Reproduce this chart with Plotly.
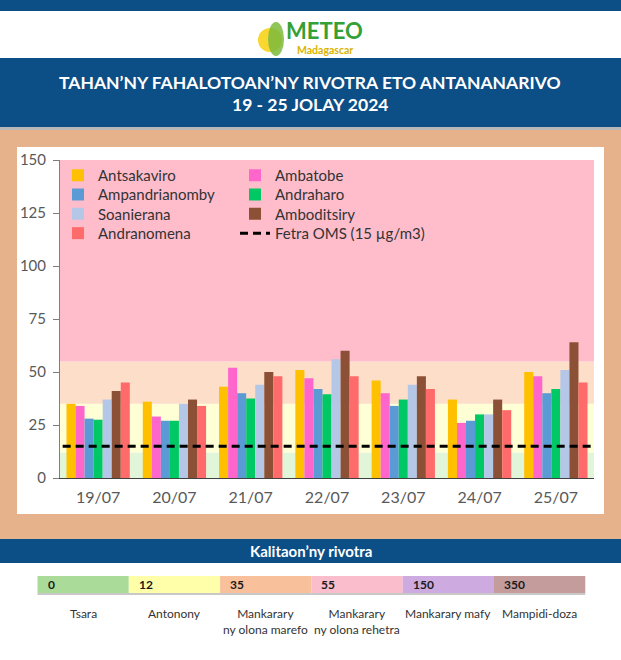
import plotly.graph_objects as go

# ---------------- data ----------------
dates = ["19/07", "20/07", "21/07", "22/07", "23/07", "24/07", "25/07"]
antsakaviro = [35, 36, 43, 51, 46, 37, 50]
ambatobe = [34, 29, 52, 47, 40, 26, 48]
ampandrianomby = [28, 27, 40, 42, 34, 27, 40]
andraharo = [27.5, 27, 37.5, 39.5, 37, 30, 42]
soanierana = [37, 35, 44, 56, 44, 30, 51]
amboditsiry = [41, 37, 50, 60, 48, 37, 64]
andranomena = [45, 34, 48, 48, 42, 32, 45]
who_limit = 15
who_label = "Fetra OMS (15 µg/m3)"

y_ticks = [0, 25, 50, 75, 100, 125, 150]

band_edges = [0, 12, 35, 55, 150]
band_colors = ["#E1F5D9", "#FFFFD6", "#FDDEC9", "#FFBDCC"]

scale_values = ["0", "12", "35", "55", "150", "350"]
scale_labels = ["Tsara", "Antonony", "Mankarary<br>ny olona marefo",
                "Mankarary<br>ny olona rehetra", "Mankarary mafy", "Mampidi-doza"]
scale_colors = ["#AADB98", "#FFFFAA", "#F9C09C", "#F9BDCB", "#CDAADF", "#C49C9C"]

series = [
    ("Antsakaviro", antsakaviro, "#FFC000"),
    ("Ambatobe", ambatobe, "#FF66CC"),
    ("Ampandrianomby", ampandrianomby, "#5B9BD5"),
    ("Andraharo", andraharo, "#00C864"),
    ("Soanierana", soanierana, "#B4C7E7"),
    ("Amboditsiry", amboditsiry, "#8C5037"),
    ("Andranomena", andranomena, "#FF6B6B"),
]

# ---------------- geometry (pixels) ----------------
W, H = 621, 660
L, R, T, B = 60, 594, 160, 478
PW, PH = R - L, B - T
FONT = "Lato"
BLUE = "#0C4E86"
TAN = "#E5B28C"


def px(x):
    return (x - L) / PW


def py(y):
    return (B - y) / PH


legend_names = ["legend"] + [f"legend{i}" for i in range(2, 9)]
# legend grid: two columns, rows filled left to right
LEG_COL_X = [58, 235]
LEG_ROW_Y0, LEG_ROW_DY = 159, 19.3

fig = go.Figure()
for i, (name, vals, color) in enumerate(series):
    fig.add_trace(go.Bar(x=dates, y=vals, name=name, marker=dict(color=color, line=dict(width=0)),
                         legend=legend_names[i]))

shapes = []


def prect(x0, y0, x1, y1, color, layer="below"):
    shapes.append(dict(type="rect", xref="paper", yref="paper", x0=px(x0), x1=px(x1),
                       y0=py(y0), y1=py(y1), fillcolor=color, line=dict(width=0), layer=layer))


# page decoration
prect(0, 0, W, 11, BLUE)
prect(0, 58, W, 127, BLUE)
prect(0, 127, W, 130, "#B8B8B8")
prect(0, 130, W, 539, TAN)
prect(17, 147, 604, 514, "#FFFFFF")
prect(0, 539, W, 563, BLUE)

# chart quality bands
for i, c in enumerate(band_colors):
    shapes.append(dict(type="rect", xref="paper", yref="y", x0=0, x1=1,
                       y0=band_edges[i], y1=band_edges[i + 1], fillcolor=c,
                       line=dict(width=0), layer="below"))

# WHO limit line (with legend entry)
shapes.append(dict(type="line", xref="paper", yref="y", x0=0.005, x1=1, y0=who_limit, y1=who_limit,
                   line=dict(color="black", width=3, dash="8px,5px"), layer="above",
                   showlegend=True, name=who_label, legend=legend_names[7]))

annotations = []


def ptext(x, y, text, size, color, bold=False, xanchor="center", yanchor="middle", family=FONT):
    annotations.append(dict(xref="paper", yref="paper", x=px(x), y=py(y), text=(f"<b>{text}</b>" if bold else text),
                            showarrow=False, xanchor=xanchor, yanchor=yanchor,
                            font=dict(family=family, size=size, color=color)))


# logo
shapes.append(dict(type="circle", xref="paper", yref="paper", x0=px(258), x1=px(282), y0=py(28), y1=py(52),
                   fillcolor="#F7D730", line=dict(width=0), layer="below"))
shapes.append(dict(type="circle", xref="paper", yref="paper", x0=px(268), x1=px(284), y0=py(22), y1=py(56),
                   fillcolor="#7DBB3C", line=dict(width=0), layer="below", opacity=0.85))
ptext(324, 30, "METEO", 22, "#35A036", bold=True)
ptext(325, 50, "Madagascar", 10.5, "#D8B400", bold=True)

# title
ptext(310, 82, "TAHAN’NY FAHALOTOAN’NY RIVOTRA ETO ANTANANARIVO", 17.5, "white", bold=True)
ptext(310, 104, "19 - 25 JOLAY 2024", 17.5, "white", bold=True)

# legend of quality scale
ptext(311, 551, "Kalitaon’ny rivotra", 15, "white", bold=True)
seg_x0, seg_w = 37.5, 91.3
for i, (v, lab, c) in enumerate(zip(scale_values, scale_labels, scale_colors)):
    x0 = seg_x0 + i * seg_w
    prect(x0, 576, x0 + seg_w, 593, c)
    ptext(x0 + 8, 584.5, v, 12, "#1A1A1A", bold=True, xanchor="left")
    ptext(x0 + seg_w / 2, 604, lab, 12, "#333333", xanchor="center", yanchor="top")
prect(seg_x0, 593, seg_x0 + 6 * seg_w, 595, "#C8C8C8")

legend_layout = {}
for i, ln in enumerate(legend_names):
    col, row = i % 2, i // 2
    legend_layout[ln] = dict(x=px(LEG_COL_X[col]), y=py(LEG_ROW_Y0 + row * LEG_ROW_DY),
                             xanchor="left", yanchor="top", bgcolor="rgba(0,0,0,0)",
                             font=dict(family=FONT, size=15, color="#333333"))

fig.update_layout(
    width=W, height=H,
    margin=dict(l=L, r=W - R, t=T, b=H - B, pad=0),
    paper_bgcolor="white", plot_bgcolor="rgba(0,0,0,0)",
    barmode="group", bargap=0.17, bargroupgap=0,
    font=dict(family=FONT, size=15, color="#404040"),
    shapes=shapes, annotations=annotations,
    showlegend=True,
    **legend_layout,
)
fig.update_yaxes(range=[0, 150], tickvals=y_ticks, showgrid=False, zeroline=False,
                 showline=True, linecolor="#7F7F7F", linewidth=1, ticks="outside", ticklen=6,
                 tickcolor="#7F7F7F", tickfont=dict(family=FONT, size=15, color="#595959"),
                 ticklabelstandoff=4)
fig.update_xaxes(showgrid=False, showline=True, linecolor="#404040", linewidth=1, ticks="",
                 tickfont=dict(family=FONT, size=16, color="#595959"), ticklabelstandoff=5)

fig.write_html("out.html", config={"displayModeBar": False},
               post_script="document.body.style.margin='0';")
